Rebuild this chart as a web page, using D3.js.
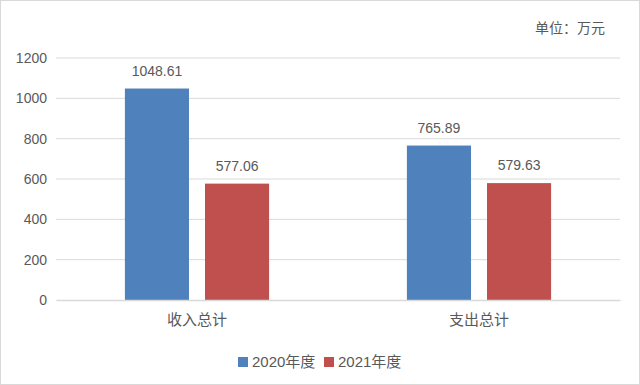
<!DOCTYPE html>
<html>
<head>
<meta charset="utf-8">
<script src="https://cdn.jsdelivr.net/npm/d3@7"></script>
<style>
  body { margin: 0; background: #fff; }
  text { font-family: "Liberation Sans", "Noto Sans CJK SC", sans-serif; fill: #595959; }
</style>
</head>
<body>
<div id="chart"></div>
<script>
// data
var categories = ["收入总计", "支出总计"];
var seriesNames = ["2020年度", "2021年度"];
var values2020 = [1048.61, 765.89];
var values2021 = [577.06, 579.63];
var yTicks = [0, 200, 400, 600, 800, 1000, 1200];
var unitLabel = "单位：万元";

var colors = ["#4F81BD", "#C0504D"];
var seriesValues = [values2020, values2021];

var W = 640, H = 385;
var margin = { top: 58, right: 20, bottom: 85, left: 56 };
var width = W - margin.left - margin.right;
var height = H - margin.top - margin.bottom;

var svg = d3.select("#chart").append("svg")
  .attr("width", W)
  .attr("height", H);

// outer frame
svg.append("rect")
  .attr("x", 0.5).attr("y", 0.5)
  .attr("width", W - 1).attr("height", H - 1)
  .attr("fill", "#fff")
  .attr("stroke", "#D9D9D9");

var g = svg.append("g")
  .attr("transform", "translate(" + margin.left + "," + margin.top + ")");

// scales
var x0 = d3.scaleBand().domain(categories).range([0, width]);
var x1 = d3.scaleBand().domain(seriesNames)
  .range([0, x0.bandwidth()])
  .paddingInner(0.2)
  .paddingOuter(0.86);
var y = d3.scaleLinear().domain([0, 1200]).range([height, 0]);

// gridlines
g.append("g")
  .selectAll("line")
  .data(yTicks.filter(function (d) { return d > 0; }))
  .enter().append("line")
  .attr("x1", 0).attr("x2", width)
  .attr("y1", function (d) { return y(d); })
  .attr("y2", function (d) { return y(d); })
  .attr("stroke", "#D9D9D9")
  .attr("stroke-width", 1);

// y axis labels
var yAxis = g.append("g")
  .call(d3.axisLeft(y).tickValues(yTicks).tickFormat(d3.format("d")).tickSize(0).tickPadding(9));
yAxis.select(".domain").remove();
yAxis.selectAll("text")
  .style("font-size", "14px")
  .attr("fill", "#595959");

// bars
var groups = g.selectAll(".cat")
  .data(categories)
  .enter().append("g")
  .attr("transform", function (d) { return "translate(" + x0(d) + ",0)"; });

groups.selectAll("rect")
  .data(function (d, i) {
    return seriesNames.map(function (s, j) {
      return { series: s, value: seriesValues[j][i], idx: j };
    });
  })
  .enter().append("rect")
  .attr("x", function (d) { return x1(d.series); })
  .attr("width", x1.bandwidth())
  .attr("y", function (d) { return y(d.value); })
  .attr("height", function (d) { return height - y(d.value); })
  .attr("fill", function (d) { return colors[d.idx]; });

groups.selectAll(".val")
  .data(function (d, i) {
    return seriesNames.map(function (s, j) {
      return { series: s, value: seriesValues[j][i] };
    });
  })
  .enter().append("text")
  .attr("class", "val")
  .attr("x", function (d) { return x1(d.series) + x1.bandwidth() / 2; })
  .attr("y", function (d) { return y(d.value) - 13; })
  .attr("text-anchor", "middle")
  .style("font-size", "14px")
  .text(function (d) { return d.value.toFixed(2); });

// x axis
var xAxis = g.append("g")
  .attr("transform", "translate(0," + height + ")")
  .call(d3.axisBottom(x0).tickSize(0).tickPadding(14));
xAxis.select(".domain").attr("stroke", "#D9D9D9").attr("stroke-width", 1.5);
xAxis.selectAll("text")
  .style("font-size", "15px")
  .attr("fill", "#595959");

// unit label
svg.append("text")
  .attr("x", 605)
  .attr("y", 33)
  .attr("text-anchor", "end")
  .style("font-size", "14px")
  .text(unitLabel);

// legend
var legend = svg.append("g").attr("transform", "translate(238,362)");
var lx = [0, 86];
seriesNames.forEach(function (s, i) {
  var item = legend.append("g").attr("transform", "translate(" + lx[i] + ",0)");
  item.append("rect")
    .attr("x", 0).attr("y", -5)
    .attr("width", 10).attr("height", 10)
    .attr("fill", colors[i]);
  item.append("text")
    .attr("x", 14).attr("y", 5)
    .style("font-size", "15px")
    .text(s);
});
</script>
</body>
</html>
